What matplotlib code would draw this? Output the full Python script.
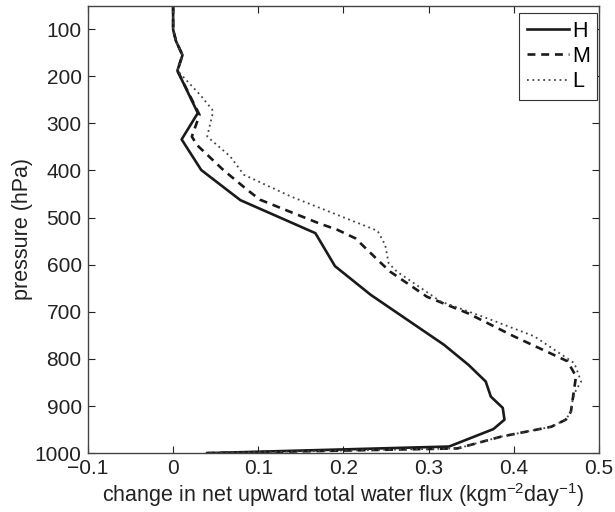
import matplotlib
matplotlib.use("Agg")
import matplotlib.pyplot as plt

plt.rcParams['font.family'] = ['Liberation Sans', 'DejaVu Sans']
plt.rcParams['mathtext.fontset'] = 'custom'
plt.rcParams['mathtext.rm'] = 'Liberation Sans'
plt.rcParams['mathtext.default'] = 'regular'

# values (flux change, pressure in hPa)
h_flux = [0.0, 0.0, 0.0035, 0.011, 0.005, 0.029, 0.010, 0.033, 0.079, 0.167,
          0.19, 0.232, 0.318, 0.347, 0.367, 0.373, 0.387, 0.389, 0.376, 0.324, 0.04]
h_pres = [50, 101, 126, 155, 188, 278, 334, 399, 463, 533,
          603, 664, 770, 813, 848, 880, 904, 929, 949, 986, 1000]

m_flux = [0.0, 0.0, 0.0035, 0.011, 0.005, 0.031, 0.022, 0.028, 0.059, 0.087,
          0.102, 0.171, 0.193, 0.214, 0.242, 0.255, 0.298, 0.346, 0.4, 0.463,
          0.473, 0.469, 0.467, 0.461, 0.444, 0.385, 0.334, 0.04]
m_pres = [50, 101, 126, 155, 188, 282, 328, 346, 399, 441,
          462, 512, 526, 544, 593, 615, 668, 703, 752, 805,
          837, 887, 912, 929, 944, 965, 990, 1000]

l_flux = [0.0, 0.0, 0.0035, 0.011, 0.005, 0.032, 0.046, 0.046, 0.040, 0.067,
          0.083, 0.138, 0.24, 0.249, 0.253, 0.263, 0.314, 0.369, 0.424, 0.471,
          0.479, 0.473, 0.469, 0.467, 0.461, 0.444, 0.385, 0.334, 0.04]
l_pres = [50, 101, 126, 155, 188, 240, 271, 282, 328, 370,
          409, 455, 528, 558, 597, 615, 678, 714, 752, 809,
          848, 866, 887, 912, 929, 944, 965, 990, 1000]

xticks = [-0.1, 0, 0.1, 0.2, 0.3, 0.4, 0.5]
xticklabels = ['\u22120.1', '0', '0.1', '0.2', '0.3', '0.4', '0.5']
yticks = [100, 200, 300, 400, 500, 600, 700, 800, 900, 1000]

fig = plt.figure(figsize=(6.15, 5.12), dpi=100)
ax = fig.add_axes([0.143, 0.115, 0.831, 0.874])

ax.plot(h_flux, h_pres, color='#1a1a1a', lw=1.9, ls='-', label='H')
ax.plot(m_flux, m_pres, color='#1a1a1a', lw=1.9, ls=(0, (3, 2.2)), label='M')
ax.plot(l_flux, l_pres, color='#444444', lw=1.3, ls=(0, (1, 2)), label='L')

ax.set_xlim(-0.1, 0.5)
ax.set_ylim(1000, 50)
ax.set_xticks(xticks)
ax.set_xticklabels(xticklabels)
ax.set_yticks(yticks)
ax.tick_params(direction='in', top=True, right=True, length=5, width=0.8,
               labelsize=15, colors='#222222', pad=4.5)
for s in ax.spines.values():
    s.set_color('#444444')
    s.set_linewidth(1.0)

ax.set_xlabel('change in net upward total water flux (kgm$^{-2}$day$^{-1}$)',
              fontsize=15.5, color='#222222', labelpad=2)
ax.set_ylabel('pressure (hPa)', fontsize=15.5, color='#222222', labelpad=1)

leg = ax.legend(loc='upper right', bbox_to_anchor=(0.9715, 0.9746),
                bbox_transform=fig.transFigure, borderaxespad=0,
                fontsize=15.5, handlelength=1.95, handletextpad=0.15,
                borderpad=0.35, labelspacing=0.2,
                fancybox=False, framealpha=1, edgecolor='#333333')
leg.get_frame().set_linewidth(0.8)

plt.savefig('out.png', dpi=100)
